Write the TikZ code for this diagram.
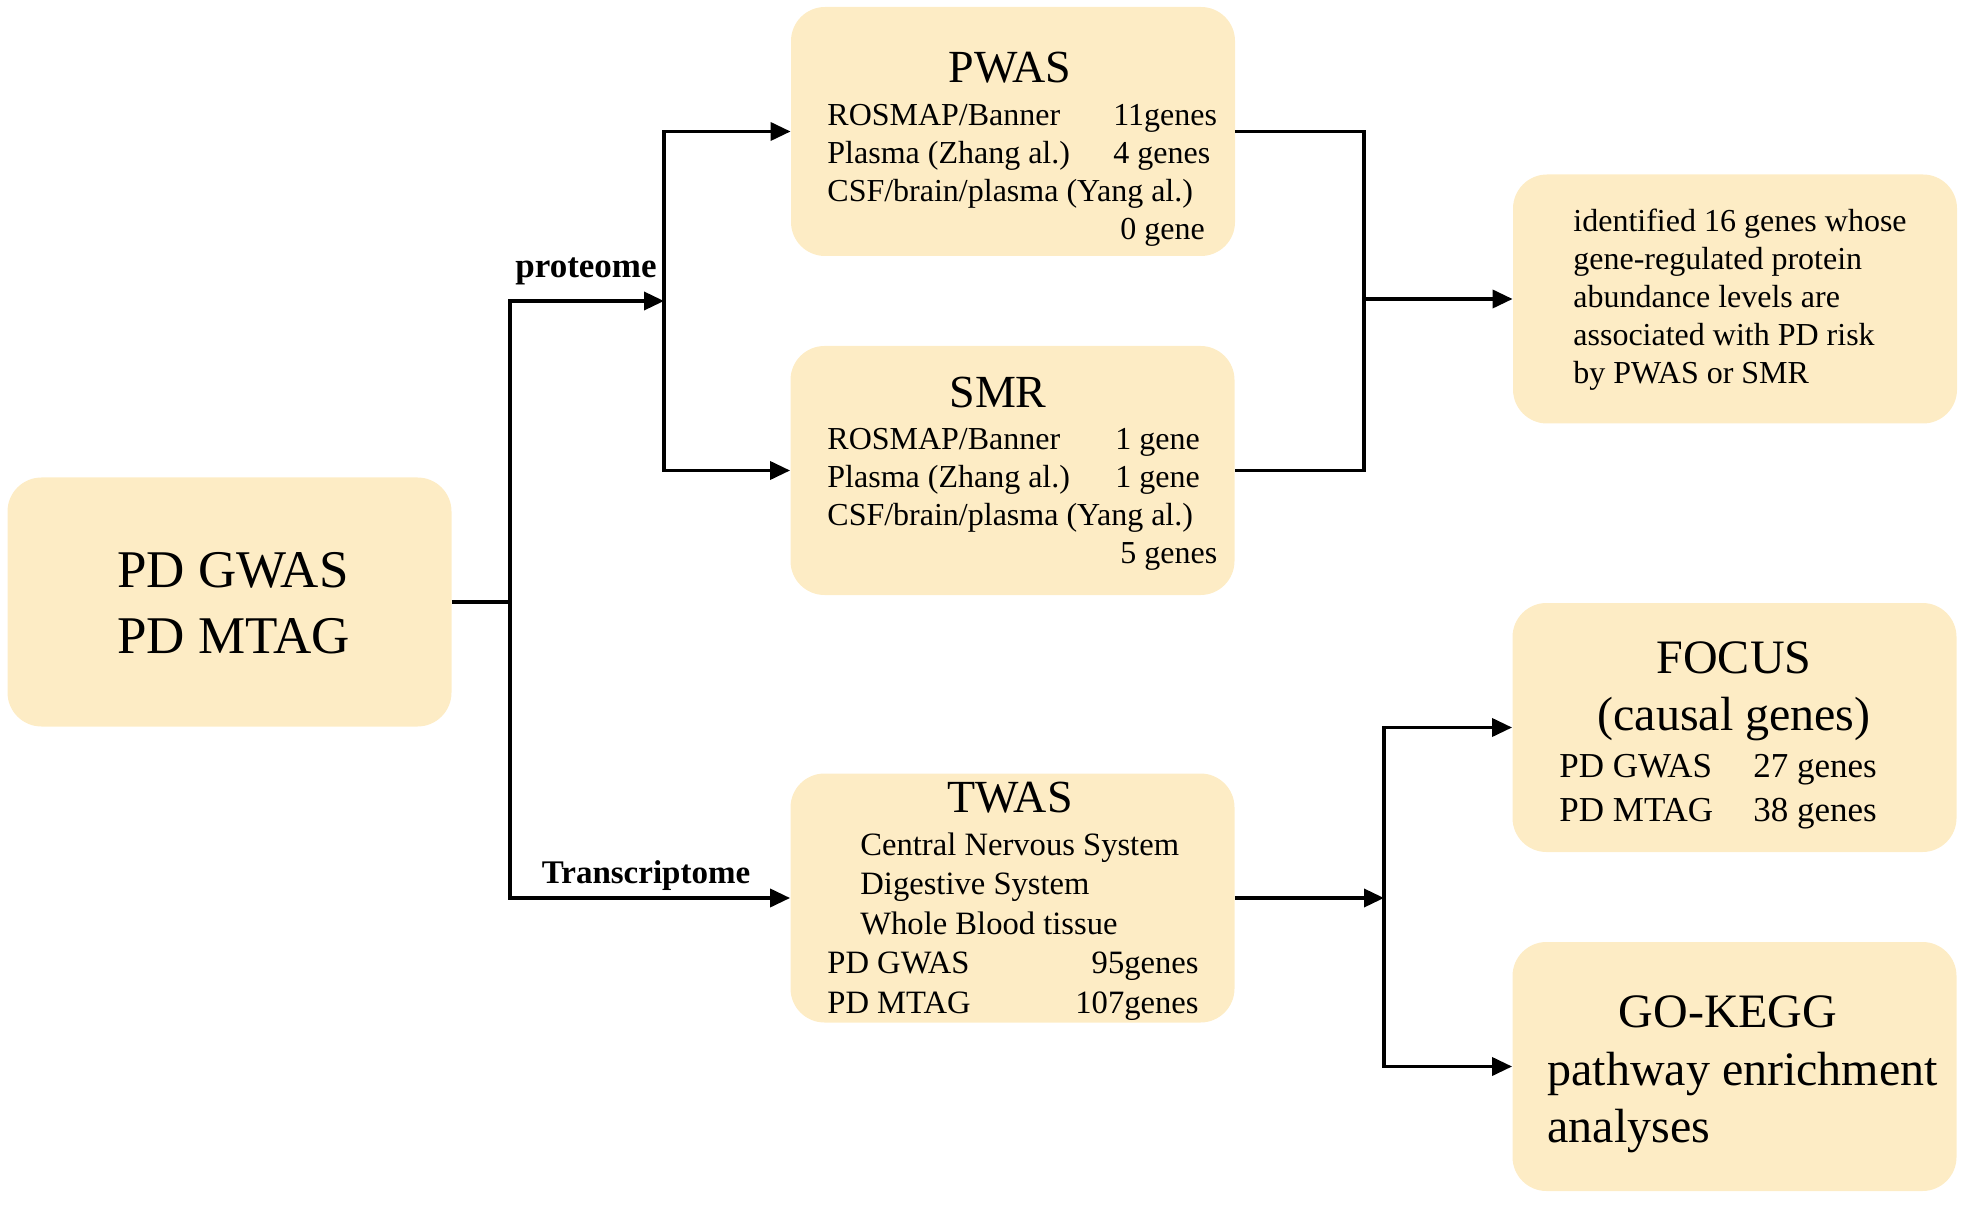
\documentclass[tikz,border=0pt]{standalone}
\usepackage{fontspec}
\setmainfont{Liberation Serif}
\usetikzlibrary{arrows.meta}
\definecolor{boxfill}{RGB}{253,236,197}
\tikzset{
    box/.style={rectangle,rounded corners=17pt,fill=boxfill,inner sep=0pt,
        minimum width=222pt,minimum height=124.5pt},
    title/.style={anchor=base,inner sep=0pt,font=\fontsize{23}{27}\selectfont},
    rows/.style={anchor=base west,inner sep=0pt,font=\fontsize{16}{19}\selectfont},
    lbl/.style={anchor=base,inner sep=0pt,font=\bfseries\fontsize{16.5}{20}\selectfont},
    link/.style={line width=1.8pt,>={Triangle[length=10pt,width=9pt]}}
}
\begin{document}
\begin{tikzpicture}[x=0.5pt,y=-0.5pt]
\useasboundingbox (0,0) rectangle (1964,1213);

% boxes
\node[box] (pd) at (229.5,602) {};
\node[box] (pwas) at (1013,131.5) {};
\node[box] (smr) at (1012.5,470.5) {};
\node[box] (twas) at (1012.5,898) {};
\node[box] (res) at (1735,299) {};
\node[box] (focus) at (1734.5,727.5) {};
\node[box] (gokegg) at (1734.5,1066.5) {};

% texts
\node[rows,font=\fontsize{26.5}{32.5}\selectfont] (pd-text) at (117,588)
    {\begin{tabular}[t]{@{}l@{}}PD GWAS\\PD MTAG\end{tabular}};

\node[title] (pwas-title) at (1010,83) {PWAS};
\node[rows] (pwas-rows) at (827,126) {\begin{tabular}[t]{@{}p{143pt}@{}l@{}}
    ROSMAP/Banner & 11genes\\
    Plasma (Zhang al.) & 4 genes\\
    \multicolumn{2}{@{}l@{}}{CSF/brain/plasma (Yang al.)}\\
    & \hspace{3.5pt}0 gene\end{tabular}};

\node[title] (smr-title) at (998,408) {SMR};
\node[rows] (smr-rows) at (827,450) {\begin{tabular}[t]{@{}p{144pt}@{}l@{}}
    ROSMAP/Banner & 1 gene\\
    Plasma (Zhang al.) & 1 gene\\
    \multicolumn{2}{@{}l@{}}{CSF/brain/plasma (Yang al.)}\\
    & \hspace{2.5pt}5 genes\end{tabular}};

\node[title] (twas-title) at (1010,812) {TWAS};
\node[rows,font=\fontsize{16.3}{19.75}\selectfont] (twas-rows) at (827,855)
    {\begin{tabular}[t]{@{}p{124pt}@{}r@{}}
    \multicolumn{2}{@{}l@{}}{\hspace{16.5pt}Central Nervous System}\\
    \multicolumn{2}{@{}l@{}}{\hspace{16.5pt}Digestive System}\\
    \multicolumn{2}{@{}l@{}}{\hspace{16.5pt}Whole Blood tissue}\\
    PD GWAS & 95genes\\
    PD MTAG & 107genes\end{tabular}};

\node[rows] (res-text) at (1573,232) {\begin{tabular}[t]{@{}l@{}}
    identified 16 genes whose\\
    gene-regulated protein\\
    abundance levels are\\
    associated with PD risk\\
    by PWAS or SMR\end{tabular}};

\node[title,font=\fontsize{24}{28.5}\selectfont] (focus-title) at (1734,673)
    {\begin{tabular}[t]{@{}c@{}}FOCUS\\(causal genes)\end{tabular}};
\node[rows,font=\fontsize{17.5}{22}\selectfont] (focus-rows) at (1559,777)
    {\begin{tabular}[t]{@{}p{97pt}@{}l@{}}
    PD GWAS & 27 genes\\
    PD MTAG & 38 genes\end{tabular}};

\node[title,font=\fontsize{24}{28.5}\selectfont] (gokegg-title) at (1728,1027) {GO-KEGG};
\node[rows,font=\fontsize{24}{28.5}\selectfont] (gokegg-text) at (1547,1085)
    {\begin{tabular}[t]{@{}l@{}}pathway enrichment\\analyses\end{tabular}};

% connectors
\coordinate (split) at (510,602);
\coordinate (prot) at (664,301);
\coordinate (merge) at (1364,299);
\coordinate (fork) at (1384,898);

\draw[link] (pd.east) -- (split);
\draw[link,->] (split) |- (prot);
\draw[link,->] (split) |- (twas.west);
\node[lbl,font=\bfseries\fontsize{17.5}{20}\selectfont] (proteome) at (586,278) {proteome};
\node[lbl] (transcriptome) at (646,883) {Transcriptome};

\draw[link,->] (prot) |- (pwas.west);
\draw[link,->] (prot) |- (smr.west);

\draw[link] (pwas.east) -| (merge) |- (smr.east);
\draw[link,->] (merge) -- (res.west);

\draw[link,->] (twas.east) -- (fork);
\draw[link,->] (fork) |- (focus.west);
\draw[link,->] (fork) |- (gokegg.west);
\end{tikzpicture}
\end{document}
